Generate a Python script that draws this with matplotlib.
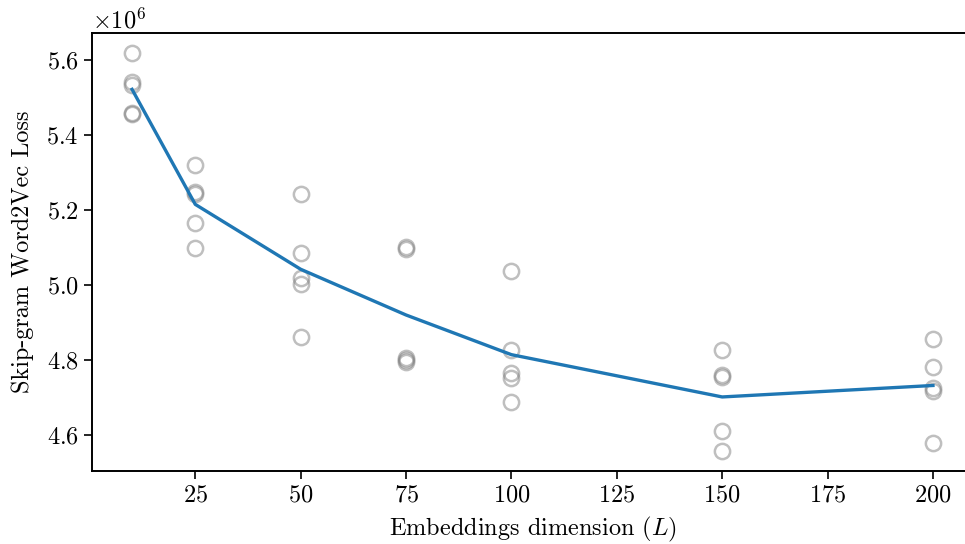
import numpy as np
import matplotlib
matplotlib.use("Agg")
import matplotlib.pyplot as plt

plt.rcParams['font.family'] = 'serif'
plt.rcParams['font.serif'] = ['cmr10']
plt.rcParams['mathtext.fontset'] = 'cm'
plt.rcParams['axes.formatter.use_mathtext'] = True

dims = [10, 25, 50, 75, 100, 150, 200]
runs = [
    [5.620, 5.542, 5.535, 5.461, 5.456],
    [5.320, 5.249, 5.244, 5.167, 5.100],
    [5.243, 5.087, 5.020, 5.004, 4.861],
    [5.103, 5.098, 4.807, 4.801, 4.796],
    [5.038, 4.827, 4.767, 4.754, 4.690],
    [4.827, 4.760, 4.756, 4.611, 4.558],
    [4.858, 4.782, 4.727, 4.718, 4.580],
]
xticks = [25, 50, 75, 100, 125, 150, 175, 200]
yticks = [4.6, 4.8, 5.0, 5.2, 5.4, 5.6]

fs = 17.5
fig = plt.figure(figsize=(9.65, 5.44), dpi=100)
ax = fig.add_axes([92/965, 73/544, 881/965, 438/544])

for d, vals in zip(dims, runs):
    v = np.array(vals) * 1e6
    ax.plot([d]*len(v), v, 'o', mfc='none', mec='gray', alpha=0.5, ms=11, mew=1.8)

means = [np.mean(v) * 1e6 for v in runs]
ax.plot(dims, means, color='#1f77b4', lw=2.4)

ax.set_xlim(0.5, 209.5)
ax.set_xticks(xticks)
ax.set_yticks([y * 1e6 for y in yticks])
ax.tick_params(labelsize=fs, width=1.2, length=6)
ax.yaxis.get_offset_text().set_fontsize(fs)
ax.set_xlabel('Embeddings dimension ($L$)', fontsize=fs, labelpad=6)
ax.set_ylabel('Skip-gram Word2Vec Loss', fontsize=fs, labelpad=9)
for s in ax.spines.values():
    s.set_linewidth(1.4)

fig.savefig('out.png', dpi=100)
